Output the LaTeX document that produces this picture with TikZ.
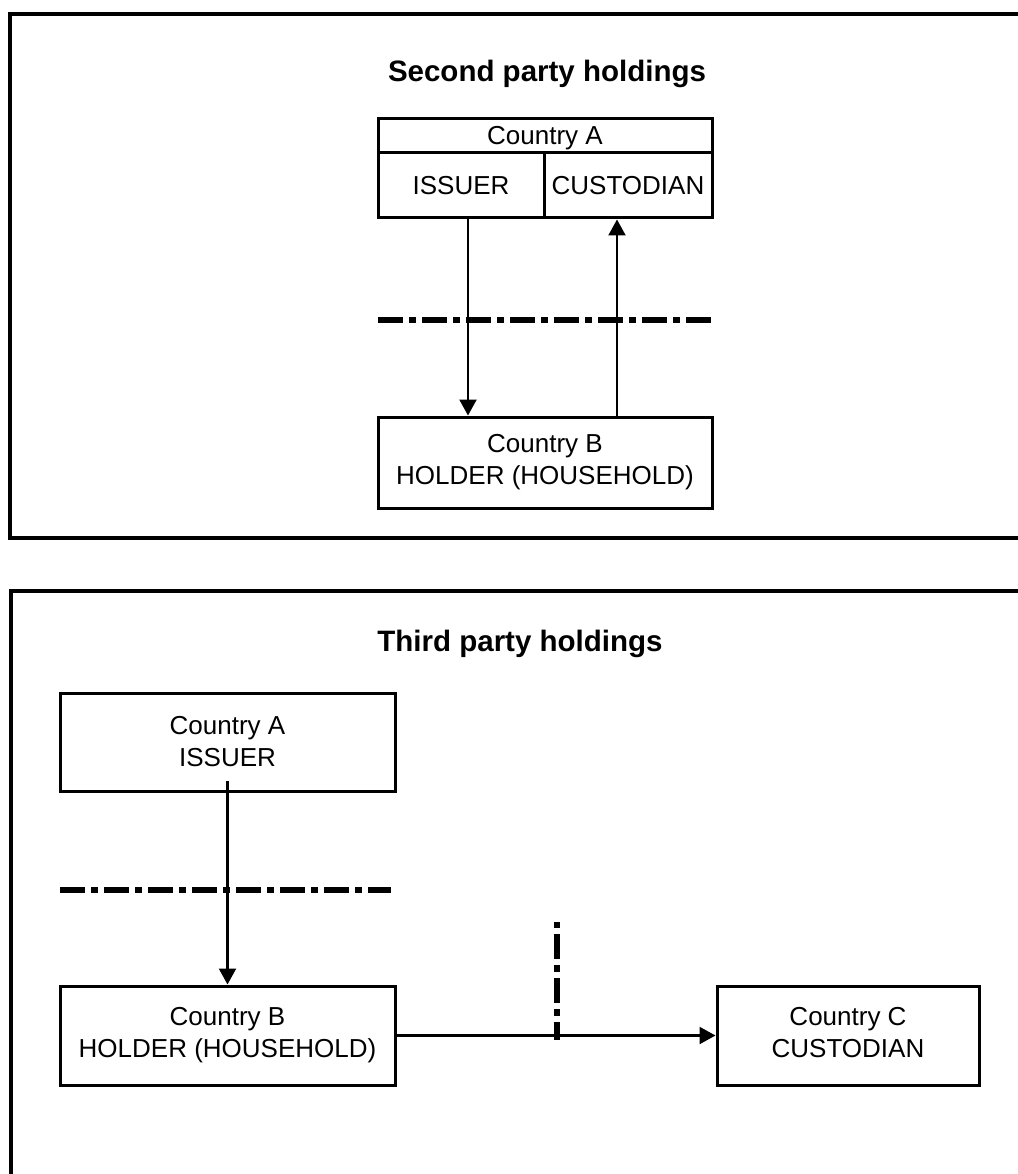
\documentclass[tikz,border=0pt]{standalone}
\usepackage{fontspec}
\setmainfont{Liberation Sans}
\usetikzlibrary{arrows.meta}
\begin{document}
\begin{tikzpicture}[x=1pt,y=-1pt,
  frame/.style={line width=3.5pt},
  box/.style={draw,line width=3pt,inner sep=0pt,align=center,font=\fontsize{26}{32}\selectfont},
  arr/.style={line width=2.2pt,-{Triangle[width=17pt,length=16pt]}},
  border/.style={line width=5.5pt,dash pattern=on 25pt off 6pt on 7pt off 6pt},
  title/.style={font=\bfseries\fontsize{29.5}{34}\selectfont}]
\useasboundingbox (0,0) rectangle (1017,1174);
% panel frames
\draw[frame] (1020,14) -- (10,14) -- (10,538) -- (1020,538);
\draw[frame] (1020,591) -- (11,591) -- (11,1178);
% ---------- Second party holdings ----------
\node[title] (t1) at (547,74) {Second party holdings};
\node[box,minimum width=334pt,minimum height=34pt,text depth=1pt] (hdrA) at (545,136) {Country A};
\node[box,minimum width=166pt,minimum height=65pt] (issuer) at (461,185.5) {ISSUER};
\node[box,minimum width=168pt,minimum height=65pt] (cust) at (628,185.5) {CUSTODIAN};
\node[box,minimum width=334pt,minimum height=91pt] (holderB) at (545,462.5) {Country B\\HOLDER (HOUSEHOLD)};
\draw[border] (378,320) -- (712,320);
\draw[arr] ([xshift=7pt]issuer.south) -- ([xshift=7pt]issuer.south |- holderB.north);
\draw[arr] ([xshift=-11pt]cust.south |- holderB.north) -- ([xshift=-11pt]cust.south);
% ---------- Third party holdings ----------
\node[title] (t2) at (520,644) {Third party holdings};
\node[box,minimum width=335pt,minimum height=98pt] (issuerC) at (227.5,742) {Country A\\ISSUER};
\node[box,minimum width=335pt,minimum height=99pt] (holderC) at (227.5,1035.5) {Country B\\HOLDER (HOUSEHOLD)};
\node[box,minimum width=262pt,minimum height=99pt] (custC) at (848,1035.5) {Country C\\CUSTODIAN\vphantom{y}};
\draw[border] (60,890) -- (391,890);
\draw[border,dash phase=32pt] (557,922) -- (557,1040);
\draw[arr] ([yshift=12pt]issuerC.south) -- (holderC.north);
\draw[arr] (holderC.east) -- (custC.west);
\end{tikzpicture}
\end{document}
